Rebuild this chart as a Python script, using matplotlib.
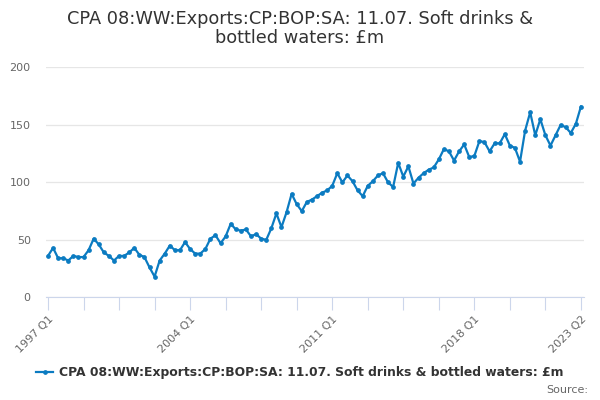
import matplotlib
matplotlib.use('Agg')
import matplotlib.pyplot as plt

title = 'CPA 08:WW:Exports:CP:BOP:SA: 11.07. Soft drinks &\nbottled waters: £m'
series_name = 'CPA 08:WW:Exports:CP:BOP:SA: 11.07. Soft drinks & bottled waters: £m'

# quarterly values, 1997 Q1 .. 2023 Q2
values = [36, 43, 34, 34, 32, 36, 35, 35, 41, 51, 46, 39, 36, 32, 36, 36,
          39, 43, 37, 35, 26, 18, 32, 38, 45, 41, 41, 48, 42, 38, 38, 42,
          51, 54, 47, 53, 64, 59, 58, 59, 53, 55, 51, 50, 60, 73, 61, 74,
          90, 81, 75, 83, 85, 88, 91, 93, 97, 108, 100, 106, 101, 93, 88, 97,
          101, 106, 108, 100, 96, 117, 105, 114, 99, 104, 108, 111, 113, 120, 129, 127,
          119, 127, 133, 122, 123, 136, 135, 127, 134, 134, 142, 132, 130, 118, 145, 161,
          141, 155, 141, 132, 141, 150, 148, 143, 151, 166]

quarters = ['%d Q%d' % (1997 + i // 4, i % 4 + 1) for i in range(len(values))]
label_idx = [0, 28, 56, 84, 105]
yticks = [0, 50, 100, 150, 200]

line_col = '#0b7bc1'
axis_col = '#ccd6eb'

fig = plt.figure(figsize=(6, 4), dpi=100)
ax = fig.add_axes([0.0767, 0.2568, 0.8966, 0.5745])

x = list(range(len(values)))
ax.plot(x, values, color=line_col, lw=1.6, marker='o', ms=2.4, label=series_name)

ax.set_xlim(-0.39, 105.6)
ax.set_ylim(0, 200)
ax.set_yticks(yticks)
ax.grid(axis='y', color='#e6e6e6', lw=0.9)
ax.set_axisbelow(True)
for s in ['top', 'right', 'left']:
    ax.spines[s].set_visible(False)
ax.spines['bottom'].set_color(axis_col)
ax.tick_params(axis='y', length=0, labelsize=8, labelcolor='#666666', pad=11)

ticks = list(range(0, len(values), 7))
ax.set_xticks(ticks)
ax.set_xticklabels([quarters[t] if t in label_idx else '' for t in ticks],
                   rotation=45, ha='right', va='top', rotation_mode='anchor')
ax.tick_params(axis='x', length=9, color=axis_col, labelsize=8, labelcolor='#666666', pad=3)

fig.suptitle(title, x=0.5, y=0.975, fontsize=12.8, color='#333333', linespacing=1.05)

leg = fig.legend(loc='center', bbox_to_anchor=(0.5, 0.068), frameon=False,
                 prop={'size': 8.9, 'weight': 'bold'}, handlelength=1.4, handletextpad=0.5)
for t in leg.get_texts():
    t.set_color('#333333')

fig.text(0.98, 0.025, 'Source:', ha='right', va='center', fontsize=8, color='#666666')

fig.savefig('out.png', dpi=100)
